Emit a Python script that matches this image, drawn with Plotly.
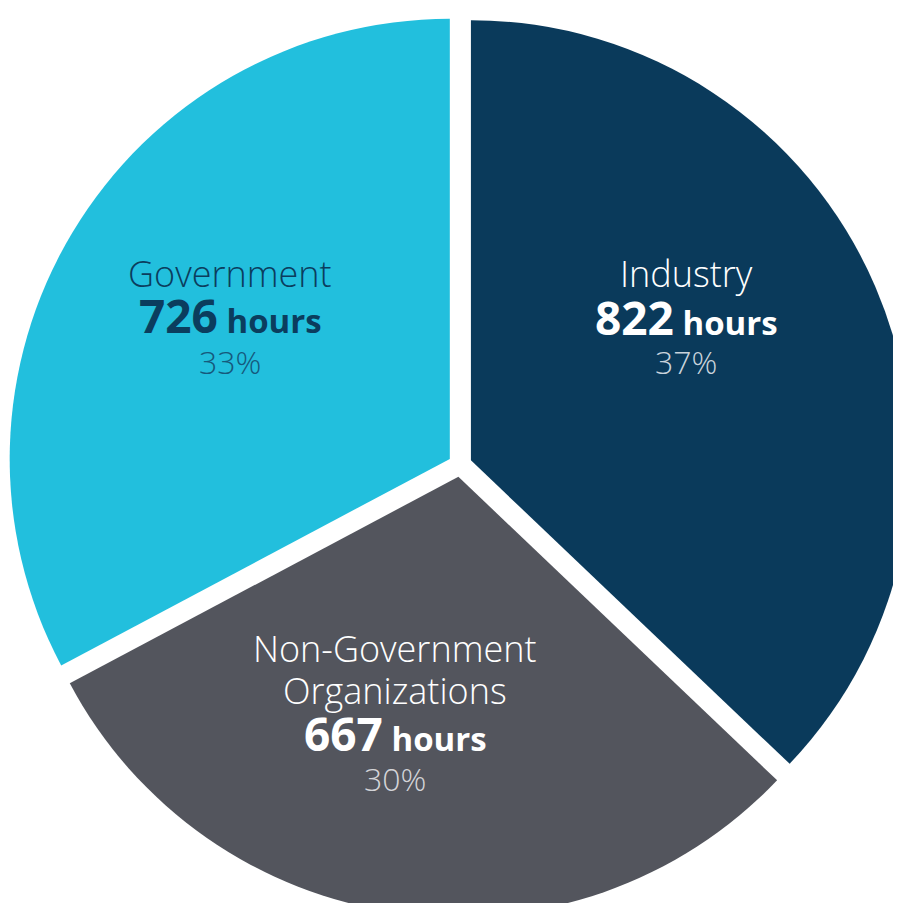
import plotly.graph_objects as go

categories = ["Industry", "Non-Government Organizations", "Government"]
hours = [822, 667, 726]
percents = ["37%", "30%", "33%"]
name_lines = [["Industry"], ["Non-Government", "Organizations"], ["Government"]]

colors = ["#0A3A5B", "#53555D", "#22BFDD"]
name_colors = ["#FFFFFF", "#FFFFFF", "#0B3D5E"]
pct_colors = ["#C9D3DC", "#D3D4D8", "#16597C"]

W, H = 904, 914
OFF = 8  # page body margin

fig = go.Figure(go.Pie(
    labels=categories,
    values=hours,
    sort=False,
    direction="clockwise",
    rotation=0,
    pull=[0.027, 0.027, 0.027],
    marker=dict(colors=colors, line=dict(color="white", width=0)),
    textinfo="none",
    hoverinfo="label+value+percent",
    showlegend=False,
    domain=dict(x=[0, 1], y=[0, 1]),
))

# screen positions of each text line (centre x, centre y)
block_x = [686, 395, 230]
name_y = [[273], [648, 690], [273]]
num_y = [317, 733, 315]
pct_y = [362, 778, 362]
FONT = "Open Sans"

def px(x, y):
    return (x - OFF) / W, 1 - (y - OFF) / H

ann = []
for i in range(3):
    cx = block_x[i]
    for line, y in zip(name_lines[i], name_y[i]):
        ax, ay = px(cx, y)
        ann.append(dict(x=ax, y=ay, xref="paper", yref="paper", text=line,
                        showarrow=False, xanchor="center", yanchor="middle",
                        font=dict(family=FONT, size=36, color=name_colors[i], weight=300)))
    ax, ay = px(cx, num_y[i])
    ann.append(dict(x=ax, y=ay, xref="paper", yref="paper",
                    text=f"<b><span style='font-size:46px'>{hours[i]}</span> hours</b>",
                    showarrow=False, xanchor="center", yanchor="middle",
                    font=dict(family=FONT, size=33, color=name_colors[i])))
    ax, ay = px(cx, pct_y[i])
    ann.append(dict(x=ax, y=ay, xref="paper", yref="paper", text=percents[i],
                    showarrow=False, xanchor="center", yanchor="middle",
                    font=dict(family=FONT, size=32, color=pct_colors[i], weight=300)))

fig.update_layout(
    width=W, height=H,
    margin=dict(l=0, r=0, t=0, b=0),
    paper_bgcolor="white", plot_bgcolor="white",
    annotations=ann,
)

fig.write_html("out.html")
